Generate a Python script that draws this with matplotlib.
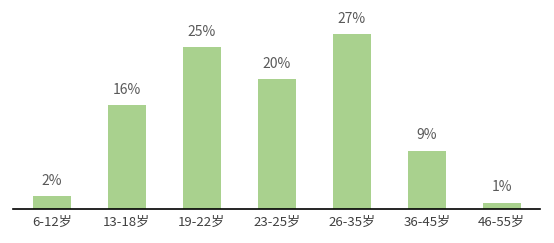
import numpy as np
import matplotlib.pyplot as plt

plt.rcParams['font.family'] = ['Noto Sans CJK SC', 'DejaVu Sans']

# data
age_groups = ["6-12岁", "13-18岁", "19-22岁", "23-25岁", "26-35岁", "36-45岁", "46-55岁"]
shares = [2, 16, 25, 20, 27, 9, 1]

bar_color = "#A9D18E"
value_color = "#595959"
tick_color = "#404040"

fig = plt.figure(figsize=(5.54, 2.43), dpi=100)
ax = fig.add_axes([13/554, 34/243, 527/554, 204/243])

x = np.arange(len(age_groups))
bars = ax.bar(x, shares, width=0.5, color=bar_color)

for rect, v in zip(bars, shares):
    ax.annotate(f"{v}%", (rect.get_x() + rect.get_width()/2, rect.get_height()),
                xytext=(0, 6), textcoords="offset points",
                ha="center", va="bottom", fontsize=10, color=value_color)

ax.set_xlim(-0.52, 6.51)
ax.set_ylim(0, 31.5)
ax.set_xticks(x)
ax.set_xticklabels(age_groups, fontsize=9.5, color=tick_color)
ax.tick_params(axis="x", length=0, pad=5)
ax.set_yticks([])
for s in ["top", "right", "left"]:
    ax.spines[s].set_visible(False)
ax.spines["bottom"].set_linewidth(1.2)
ax.spines["bottom"].set_color("black")

fig.savefig("out.png", dpi=100)
